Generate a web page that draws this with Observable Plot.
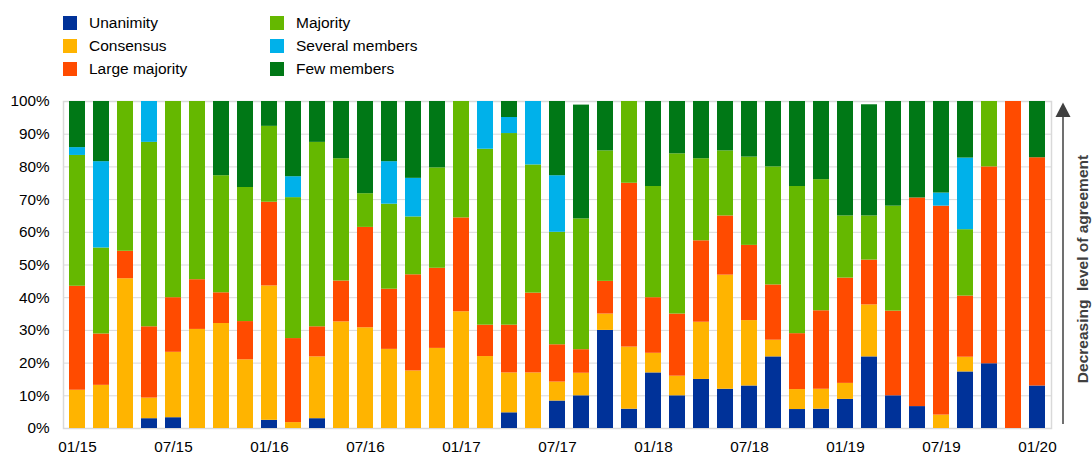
<!DOCTYPE html>
<html>
<head>
<meta charset="utf-8">
<script src="https://cdn.jsdelivr.net/npm/d3@7"></script>
<script src="https://cdn.jsdelivr.net/npm/@observablehq/plot@0.6"></script>
<style>
  html, body { margin: 0; padding: 0; background: #fff; }
  body { width: 1092px; height: 454px; position: relative; overflow: hidden;
         font-family: "Liberation Sans", Arial, sans-serif; }
  #chart { position: absolute; left: 0; top: 0; }
  .leg { position: absolute; height: 23px; display: flex; align-items: center;
         font-size: 15.5px; color: #000; white-space: nowrap; }
  .leg .sw { width: 14px; height: 14px; margin-right: 12px; }
  #side { position: absolute; left: 0; top: 0; pointer-events: none; }
  #sideText { position: absolute; left: 1083px; top: 269px; transform: translate(-50%, -50%) rotate(-90deg);
              font-weight: bold; font-size: 15.5px; color: #404040; white-space: pre; }
</style>
</head>
<body>
<div id="chart"></div>
<div id="legend"></div>
<svg id="side" width="1092" height="454">
  <line x1="1063" y1="424" x2="1063" y2="112" stroke="#404040" stroke-width="1.5"/>
  <path d="M1063,102.5 L1070.5,117 L1055.5,117 Z" fill="#404040"/>
</svg>
<div id="sideText">Decreasing  level of agreement</div>
<script>
// Meeting dates (month/year)
const meetings = [
  "01/15","03/15","04/15","06/15","07/15","09/15","10/15","12/15",
  "01/16","03/16","04/16","06/16","07/16","09/16","10/16","12/16",
  "01/17","03/17","04/17","06/17","07/17","09/17","10/17","12/17",
  "01/18","03/18","04/18","06/18","07/18","09/18","10/18","12/18",
  "01/19","03/19","04/19","06/19","07/19","09/19","10/19","12/19",
  "01/20"
];
const tickLabels = ["01/15","07/15","01/16","07/16","01/17","07/17","01/18","07/18","01/19","07/19","01/20"];
const yTicks = [0,10,20,30,40,50,60,70,80,90,100];

const seriesNames = ["Unanimity","Consensus","Large majority","Majority","Several members","Few members"];
const seriesColors = ["#003299","#FFB400","#FF4B00","#65B800","#00B1EA","#007816"];

// Shares in % per meeting
const unanimity = [0,0,0,3,3.3,0,0,0, 2.5,0,3,0,0,0,0,0, 0,0,4.8,0,8.4,10,30,5.9, 17,10,15,12,13,21.9,5.8,5.9, 8.9,21.9,10,6.7,0,17.3,19.8,0, 13];
const consensus = [11.7,13.2,45.8,6.3,20,30.3,32.1,21, 41.1,1.8,18.9,32.6,30.8,24.2,17.6,24.5, 35.7,22,12.2,17,5.8,6.9,5,19, 6,6,17.5,34.9,20,5.1,6.1,6.1, 4.9,15.9,0,0,4.1,4.5,0,0, 0];
const largeMajority = [31.8,15.7,8.4,21.8,16.7,15.2,9.4,11.7, 25.6,25.7,9.2,12.5,30.7,18.4,29.4,24.5, 28.7,9.6,14.6,24.4,11.4,7.2,10,50.1, 17,19,24.9,18.1,23,16.9,17.1,24, 32.2,13.7,25.9,63.8,63.9,18.7,60.2,100, 69.8];
const majority = [40,26.3,45.8,56.4,60,54.5,35.8,41, 23.2,43.1,56.4,37.4,10.3,26,17.7,30.7, 35.6,53.8,58.6,39.2,34.4,40,39.9,25, 34,49,25.1,19.9,27,36.1,45,40.1, 19,13.5,32.1,0,0,20.3,20,0, 0];
const severalMembers = [2.4,26.4,0,12.5,0,0,0,0, 0,6.4,0,0,0,13,11.8,0, 0,14.6,4.9,19.4,17.3,0,0,0, 0,0,0,0,0,0,0,0, 0,0,0,0,4,21.9,0,0, 0];
const fewMembers = [14.1,18.4,0,0,0,0,22.7,26.3, 7.6,23,12.5,17.5,28.2,18.4,23.5,20.3, 0,0,4.9,0,22.7,34.8,15.1,0, 26,16,17.5,15.1,17,20,26,23.9, 35,34,32,29.5,28,17.3,0,0, 17.2];

const seriesValues = [unanimity, consensus, largeMajority, majority, severalMembers, fewMembers];

const rows = [];
meetings.forEach((m, i) => {
  seriesNames.forEach((s, j) => {
    rows.push({meeting: m, series: s, value: seriesValues[j][i]});
  });
});

const font = '"Liberation Sans", Arial, sans-serif';

const chart = Plot.plot({
  width: 1092,
  height: 454,
  marginLeft: 63,
  marginRight: 41,
  marginTop: 101,
  marginBottom: 26,
  style: {fontFamily: font, fontSize: "15.3px", color: "#000", background: "transparent"},
  x: {
    domain: meetings,
    paddingInner: 0.336,
    paddingOuter: 0.168,
    label: null
  },
  y: {
    domain: [0, 100],
    label: null
  },
  color: {domain: seriesNames, range: seriesColors},
  marks: [
    Plot.gridY(yTicks, {stroke: "#d9d9d9", strokeOpacity: 1, strokeWidth: 1}),
    Plot.frame({stroke: "#d9d9d9", strokeWidth: 1.5}),
    Plot.barY(rows, Plot.stackY({
      x: "meeting",
      y: "value",
      fill: "series",
      order: seriesNames
    })),
    Plot.axisY(yTicks, {tickSize: 0, tickPadding: 14, tickFormat: d => d + "%", label: null, fontSize: 15.3}),
    Plot.axisX(tickLabels, {tickSize: 0, tickPadding: 13, label: null, fontSize: 15.3})
  ]
});
document.getElementById("chart").appendChild(chart);

// HTML legend
const legend = document.getElementById("legend");
const legendCols = [63, 270];
seriesNames.forEach((s, j) => {
  const col = Math.floor(j / 3), row = j % 3;
  const item = document.createElement("div");
  item.className = "leg";
  item.style.left = legendCols[col] + "px";
  item.style.top = (11.5 + row * 23) + "px";
  const sw = document.createElement("span");
  sw.className = "sw";
  sw.style.background = seriesColors[j];
  const tx = document.createElement("span");
  tx.textContent = s;
  item.appendChild(sw);
  item.appendChild(tx);
  legend.appendChild(item);
});
</script>
</body>
</html>
